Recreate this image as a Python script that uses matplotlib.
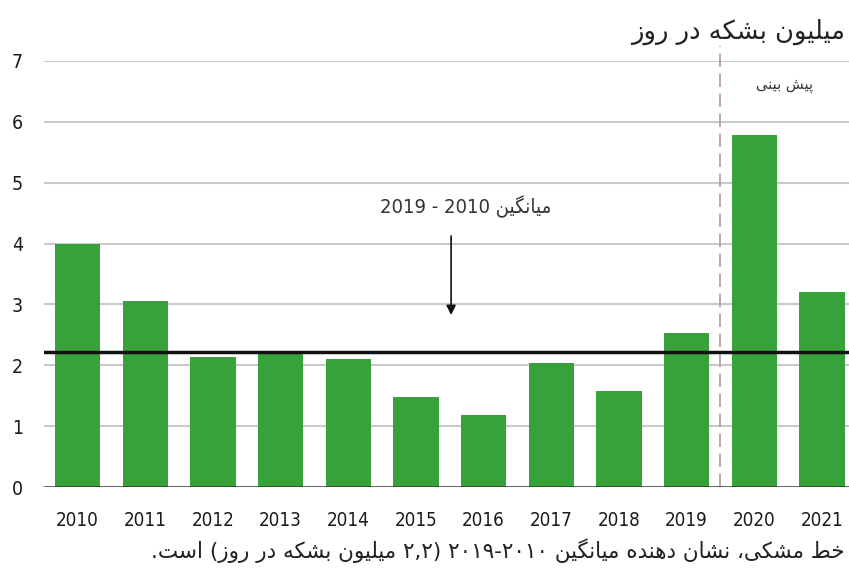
import re
import matplotlib
matplotlib.use('Agg')
import matplotlib.pyplot as plt
import numpy as np

# data (million barrels per day)
years = ['2010', '2011', '2012', '2013', '2014', '2015',
         '2016', '2017', '2018', '2019', '2020', '2021']
values = [4.0, 3.06, 2.13, 2.2, 2.1, 1.48, 1.18, 2.03, 1.57, 2.53, 5.79, 3.21]
average = 2.22
y_ticks = [0, 1, 2, 3, 4, 5, 6, 7]

title_text = 'میلیون بشکه در روز'
forecast_text = 'پیش بینی'
avg_text = 'میانگین 2010 - 2019'
note_text = 'خط مشکی، نشان دهنده میانگین ۲۰۱۰-۲۰۱۹ (۲,۲ میلیون بشکه در روز) است.'

# contextual forms: isolated, final, initial, medial
FORMS = {
    'ا': ('\uFE8D', '\uFE8E', None, None),
    'ب': ('\uFE8F', '\uFE90', '\uFE91', '\uFE92'),
    'پ': ('\uFB56', '\uFB57', '\uFB58', '\uFB59'),
    'ت': ('\uFE95', '\uFE96', '\uFE97', '\uFE98'),
    'خ': ('\uFEA5', '\uFEA6', '\uFEA7', '\uFEA8'),
    'د': ('\uFEA9', '\uFEAA', None, None),
    'ر': ('\uFEAD', '\uFEAE', None, None),
    'ز': ('\uFEAF', '\uFEB0', None, None),
    'س': ('\uFEB1', '\uFEB2', '\uFEB3', '\uFEB4'),
    'ش': ('\uFEB5', '\uFEB6', '\uFEB7', '\uFEB8'),
    'ط': ('\uFEC1', '\uFEC2', '\uFEC3', '\uFEC4'),
    '\u06A9': ('\uFB8E', '\uFB8F', '\uFB90', '\uFB91'),
    'گ': ('\uFB92', '\uFB93', '\uFB94', '\uFB95'),
    'ل': ('\uFEDD', '\uFEDE', '\uFEDF', '\uFEE0'),
    'م': ('\uFEE1', '\uFEE2', '\uFEE3', '\uFEE4'),
    'ن': ('\uFEE5', '\uFEE6', '\uFEE7', '\uFEE8'),
    'ه': ('\uFEE9', '\uFEEA', '\uFEEB', '\uFEEC'),
    'و': ('\uFEED', '\uFEEE', None, None),
    '\u06CC': ('\uFBFC', '\uFBFD', '\uFBFE', '\uFBFF'),
}


def joins_left(c):
    return c in FORMS and FORMS[c][2] is not None


def shape(text):
    text = text.replace('\u0643', '\u06A9').replace('\u064A', '\u06CC')
    out = []
    for i, c in enumerate(text):
        if c not in FORMS:
            out.append(c)
            continue
        prev_ok = i > 0 and joins_left(text[i - 1])
        next_ok = joins_left(c) and i + 1 < len(text) and text[i + 1] in FORMS
        iso, fin, ini, med = FORMS[c]
        if prev_ok and next_ok:
            out.append(med)
        elif prev_ok:
            out.append(fin)
        elif next_ok:
            out.append(ini)
        else:
            out.append(iso)
    return ''.join(out)


def visual(text):
    """shape the text and put it in left-to-right display order"""
    shaped = shape(text)
    tokens = re.findall(r'[0-9۰-۹]+(?:[.,][0-9۰-۹]+)*|[^0-9۰-۹]+', shaped)
    mirror = str.maketrans('()', ')(')
    out = []
    for t in reversed(tokens):
        if t[0].isdigit():
            out.append(t)
        else:
            out.append(t[::-1].translate(mirror))
    return ''.join(out)


plt.rcParams['font.family'] = ['DejaVu Sans']

fig = plt.figure(figsize=(8.49, 5.72), dpi=100)
ax = fig.add_axes([0.0515, 0.1486, 0.9485, 0.7448])

x = np.arange(len(years))
ax.bar(x, values, width=0.67, color='#37a13a', zorder=3)

ax.set_xlim(-0.5, 11.4)
ax.set_ylim(0, 7)
ax.set_yticks(y_ticks)
ax.set_xticks(x)
ax.set_xticklabels(years, fontsize=13.5, color='#1a1a1a',
                   fontstretch='condensed')
ax.set_yticklabels([str(t) for t in y_ticks], fontsize=14, color='#1a1a1a',
                   fontstretch='condensed')
ax.tick_params(axis='x', length=0, pad=17)
ax.tick_params(axis='y', length=0, pad=15)

for t in y_ticks[1:]:
    ax.axhline(t, color='#c9c9c9', lw=1.5, zorder=1)
ax.axhline(0, color='#333333', lw=1.8, zorder=4)
for s in ax.spines.values():
    s.set_visible(False)

# average line
ax.axhline(average, color='#111111', lw=2.5, zorder=5)

# forecast separator
ax.plot([9.5, 9.5], [0, 7.25], color='#b09a9a', lw=1.2, dashes=(8, 4),
        zorder=2, clip_on=False)
ax.text(10.45, 6.6, visual(forecast_text), ha='center', va='center',
        fontsize=10.5, color='#333333')

# annotation for the average
ax.text(5.74, 4.6, visual(avg_text), ha='center', va='center',
        fontsize=14.5, color='#333333', fontstretch='condensed')
ax.annotate('', xy=(5.52, 2.78), xytext=(5.52, 4.17),
            arrowprops=dict(arrowstyle='-|>', color='#111111', lw=1.2,
                            mutation_scale=14))

fig.text(0.995, 0.945, visual(title_text), ha='right', va='center',
         fontsize=18.5, color='#222222')
fig.text(0.995, 0.037, visual(note_text), ha='right', va='center',
         fontsize=15.5, color='#222222')

fig.savefig('out.png', dpi=100)
